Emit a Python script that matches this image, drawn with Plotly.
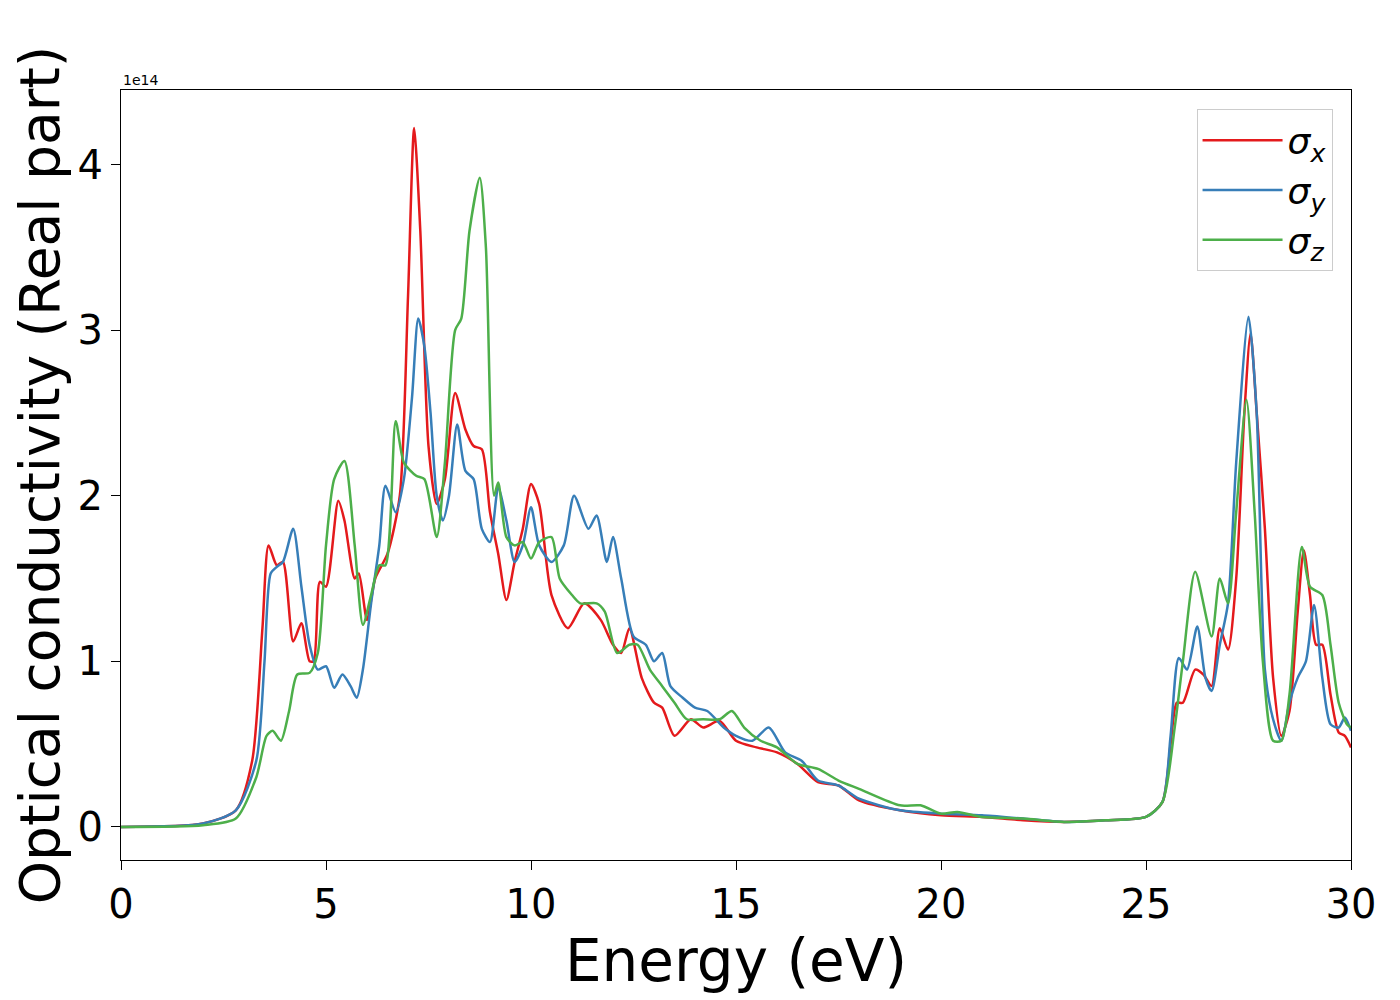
import plotly.graph_objects as go

# Energy (eV) / sigma (units of 1e14)
ex = [0, 2, 2.8, 3.2, 3.45, 3.6, 3.8, 3.95, 4.2, 4.4, 4.6, 4.7, 4.85, 5.0, 5.3, 5.45, 5.7, 5.8, 6.0, 6.2, 6.5, 6.8, 7.0,
      7.15, 7.3, 7.5, 7.7, 7.9, 8.15, 8.4, 8.6, 8.8, 9.0, 9.2, 9.4, 9.6, 9.8, 10.0, 10.2, 10.5, 10.9, 11.3, 11.7, 12.0,
      12.2, 12.4, 12.7, 13.0, 13.2, 13.5, 13.9, 14.2, 14.6, 15.0, 15.5, 16, 16.5, 17, 17.5, 18, 19, 20, 21, 22, 23, 24,
      25, 25.4, 25.6, 25.75, 25.9, 26.2, 26.4, 26.6, 26.8, 27.0, 27.2, 27.4, 27.55, 27.7, 27.9, 28.1, 28.3, 28.5, 28.7,
      28.85, 29.0, 29.15, 29.3, 29.5, 29.7, 29.85, 30]
sx = [0, 0.02, 0.1, 0.4, 1.2, 1.7, 1.58, 1.6, 1.12, 1.23, 1.0, 1.0, 1.48, 1.45, 1.97, 1.85, 1.5, 1.53, 1.25, 1.5, 1.65,
      2.0, 3.2, 4.22, 3.6, 2.3, 1.95, 2.1, 2.62, 2.4, 2.3, 2.28, 1.9, 1.65, 1.37, 1.6, 1.8, 2.07, 1.95, 1.4, 1.2, 1.35,
      1.25, 1.1, 1.05, 1.2, 0.9, 0.75, 0.72, 0.55, 0.65, 0.6, 0.64, 0.52, 0.48, 0.45, 0.38, 0.27, 0.25, 0.16, 0.1, 0.07,
      0.06, 0.04, 0.03, 0.04, 0.06, 0.15, 0.5, 0.75, 0.75, 0.95, 0.92, 0.85, 1.2, 1.07, 1.5, 2.5, 2.98, 2.5, 1.8, 0.9,
      0.55, 0.7, 1.3, 1.67, 1.4, 1.1, 1.1, 0.8, 0.57, 0.55, 0.48]

ey = [0, 2, 2.8, 3.3, 3.5, 3.65, 3.8, 3.95, 4.2, 4.4, 4.6, 4.8, 5.0, 5.2, 5.4, 5.6, 5.75, 5.9, 6.1, 6.3, 6.45, 6.7, 6.9,
      7.1, 7.25, 7.4, 7.55, 7.7, 7.85, 8.0, 8.2, 8.4, 8.6, 8.8, 9.0, 9.2, 9.4, 9.6, 9.8, 10.0, 10.2, 10.5, 10.8, 11.05,
      11.4, 11.6, 11.85, 12.0, 12.2, 12.5, 12.8, 13.0, 13.2, 13.4, 13.7, 14.0, 14.3, 14.7, 15.0, 15.4, 15.8, 16.2, 16.6,
      17, 17.5, 18, 19, 20, 21, 22, 23, 24, 25, 25.4, 25.6, 25.8, 26.0, 26.25, 26.45, 26.6, 26.8, 27.0, 27.2, 27.5,
      27.7, 27.9, 28.1, 28.3, 28.5, 28.7, 28.9, 29.1, 29.3, 29.5, 29.7, 29.85, 30]
sy = [0, 0.02, 0.1, 0.4, 1.0, 1.53, 1.57, 1.6, 1.8, 1.45, 1.1, 0.95, 0.97, 0.84, 0.92, 0.85, 0.78, 0.95, 1.35, 1.7,
      2.06, 1.9, 2.1, 2.6, 3.07, 2.9, 2.5, 2.0, 1.85, 2.0, 2.43, 2.15, 2.1, 1.8, 1.72, 2.05, 1.85, 1.6, 1.7, 1.93, 1.7,
      1.6, 1.7, 2.0, 1.8, 1.88, 1.6, 1.75, 1.5, 1.15, 1.1, 1.0, 1.05, 0.85, 0.78, 0.72, 0.7, 0.6, 0.55, 0.52, 0.6, 0.45,
      0.4, 0.28, 0.25, 0.17, 0.1, 0.08, 0.07, 0.05, 0.03, 0.04, 0.06, 0.15, 0.55, 1.02, 0.95, 1.21, 0.9, 0.82, 1.1, 1.35,
      2.2, 3.08, 2.5, 0.95, 0.65, 0.52, 0.75, 0.9, 1.0, 1.34, 0.9, 0.62, 0.6, 0.66, 0.58]

ez = [0, 2, 2.8, 3.3, 3.55, 3.7, 3.9, 4.1, 4.3, 4.6, 4.8, 5.0, 5.2, 5.45, 5.7, 5.9, 6.1, 6.3, 6.45, 6.7, 6.9, 7.2, 7.4,
      7.7, 7.9, 8.15, 8.3, 8.5, 8.75, 8.9, 9.1, 9.2, 9.4, 9.6, 9.8, 10.0, 10.2, 10.5, 10.7, 11.0, 11.2, 11.6, 11.8, 12.1,
      12.4, 12.6, 12.9, 13.2, 13.5, 13.8, 14.2, 14.6, 14.9, 15.2, 15.6, 16, 16.5, 17, 17.5, 18, 19, 19.5, 20, 20.4, 21,
      22, 23, 24, 25, 25.4, 25.7, 25.9, 26.2, 26.6, 26.8, 27.0, 27.2, 27.45, 27.65, 27.85, 28.1, 28.3, 28.5, 28.8, 29.0,
      29.3, 29.5, 29.7, 29.9, 30]
sz = [0, 0.01, 0.05, 0.3, 0.55, 0.58, 0.52, 0.7, 0.92, 0.93, 1.05, 1.7, 2.1, 2.21, 1.7, 1.22, 1.4, 1.58, 1.58, 2.45,
      2.2, 2.12, 2.1, 1.75, 2.2, 3.0, 3.07, 3.6, 3.92, 3.5, 2.0, 2.08, 1.75, 1.7, 1.72, 1.62, 1.72, 1.75, 1.5, 1.4, 1.35,
      1.35, 1.3, 1.05, 1.1, 1.1, 0.95, 0.85, 0.75, 0.65, 0.65, 0.65, 0.7, 0.6, 0.52, 0.48, 0.38, 0.35, 0.28, 0.23, 0.13,
      0.13, 0.08, 0.09, 0.06, 0.05, 0.03, 0.04, 0.06, 0.15, 0.6, 1.0, 1.54, 1.15, 1.5, 1.35, 1.9, 2.58, 1.9, 1.0, 0.52,
      0.52, 0.8, 1.69, 1.45, 1.4, 1.1, 0.75, 0.62, 0.6]

series = [
    (ex, sx, "σ<sub>x</sub>", "#e41a1c"),
    (ey, sy, "σ<sub>y</sub>", "#377eb8"),
    (ez, sz, "σ<sub>z</sub>", "#4daf4a"),
]

fig = go.Figure()
for x, y, name, color in series:
    fig.add_trace(go.Scatter(x=x, y=y, mode="lines", name="<i>" + name + "</i>",
                             line=dict(color=color, width=2.5, shape="spline", smoothing=0.7)))

axis_common = dict(showline=True, linecolor="black", linewidth=1, mirror=True, ticks="outside",
                   ticklen=9, tickcolor="black", showgrid=False, zeroline=False, automargin=False,
                   tickfont=dict(size=40, color="black"))

fig.update_xaxes(range=[0, 30], tickvals=[0, 5, 10, 15, 20, 25, 30],
                 title=dict(text="Energy (eV)", font=dict(size=58, color="black"), standoff=0), **axis_common)
fig.update_yaxes(range=[-0.2, 4.45], tickvals=[0, 1, 2, 3, 4],
                 title=dict(text="Optical conductivity (Real part)", font=dict(size=55, color="black"), standoff=2),
                 **axis_common)

fig.add_annotation(text="1e14", xref="paper", yref="paper", x=0, y=1, xanchor="left", yanchor="bottom",
                   showarrow=False, font=dict(size=14, color="black"))

fig.update_layout(
    width=1400, height=1000,
    paper_bgcolor="white", plot_bgcolor="white",
    font=dict(family="DejaVu Sans", color="black"),
    margin=dict(l=113, r=57, t=82, b=148),
    legend=dict(x=0.985, y=0.975, xanchor="right", yanchor="top", bordercolor="#cccccc", borderwidth=1,
                font=dict(size=36), bgcolor="white", itemwidth=80, tracegroupgap=10),
)

fig.write_html("out.html")
